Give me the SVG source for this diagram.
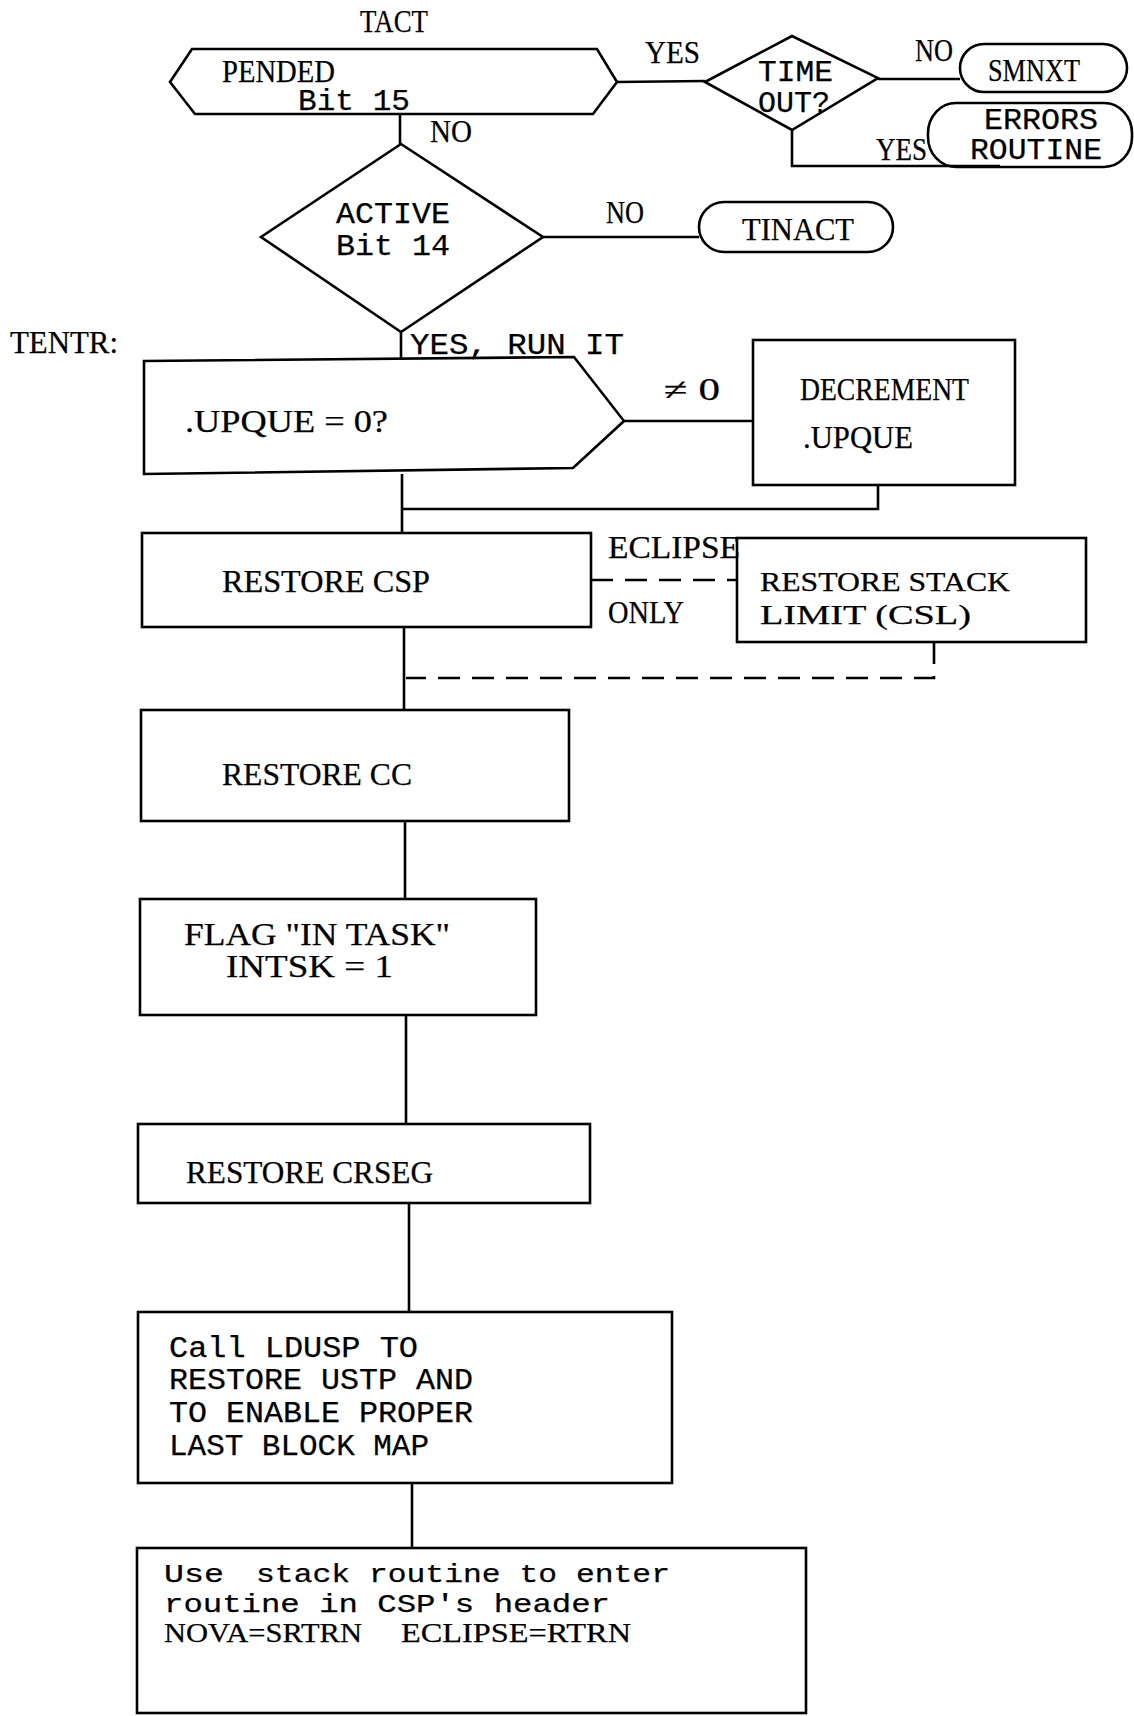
<svg xmlns="http://www.w3.org/2000/svg" width="1134" height="1716" viewBox="0 0 1134 1716">
<style>
.ln{fill:none;stroke:#000;stroke-width:2.6;stroke-linejoin:miter}
.dash{stroke-dasharray:22 12}
text{fill:#000;stroke:#000;stroke-width:0.25}
.s{font-family:"Liberation Serif",serif;font-size:31px}
.s2{font-family:"Liberation Serif",serif;font-size:28px}
.m{font-family:"Liberation Mono",monospace;font-size:29px}
.m2{font-family:"Liberation Mono",monospace;font-size:25px}
</style>
<rect width="1134" height="1716" fill="#fff"/>
<g id="connectors">
<path class="ln" d="M617,82 L705,81"/>
<path class="ln" d="M878,79 L960,79"/>
<path class="ln" d="M792,130 L792,166 L1000,166"/>
<path class="ln" d="M400,114 L400,144"/>
<path class="ln" d="M543,237 L699,237"/>
<path class="ln" d="M401,332 L401,358"/>
<path class="ln" d="M624,421 L753,421"/>
<path class="ln" d="M878,485 L878,509 L402,509"/>
<path class="ln" d="M402,474 L402,533"/>
<path class="ln dash" d="M591,580 L737,580"/>
<path class="ln dash" d="M934,642 L934,678 L406,678"/>
<path class="ln" d="M404,627 L404,710"/>
<path class="ln" d="M405,821 L405,899"/>
<path class="ln" d="M406,1015 L406,1124"/>
<path class="ln" d="M409,1203 L409,1312"/>
<path class="ln" d="M412,1483 L412,1548"/>
</g>
<g id="tact-label"><text class="s" x="360" y="32" textLength="68" lengthAdjust="spacingAndGlyphs">TACT</text></g>
<g id="pended">
<path class="ln" d="M192,49 L597,49 L617,82 L593,114 L195,114 L170,82 Z"/>
<text class="s" x="222" y="82" textLength="113" lengthAdjust="spacingAndGlyphs">PENDED</text>
<text class="m" x="298" y="110" textLength="112" lengthAdjust="spacingAndGlyphs">Bit 15</text>
</g>
<g id="labels">
<text class="s" x="645" y="63" textLength="55" lengthAdjust="spacingAndGlyphs">YES</text>
<text class="s" x="915" y="61" textLength="38" lengthAdjust="spacingAndGlyphs">NO</text>
<text class="s" x="876" y="160" textLength="51" lengthAdjust="spacingAndGlyphs">YES</text>
<text class="s" x="430" y="142" textLength="42" lengthAdjust="spacingAndGlyphs">NO</text>
<text class="s" x="606" y="223" textLength="38" lengthAdjust="spacingAndGlyphs">NO</text>
<text class="s" x="10" y="353" textLength="108" lengthAdjust="spacingAndGlyphs">TENTR:</text>
<text class="m" x="410" y="354" textLength="214" lengthAdjust="spacingAndGlyphs">YES, RUN IT</text>
<text class="s" x="664" y="400" textLength="56" lengthAdjust="spacingAndGlyphs">≠ 0</text>
<text class="s" x="608" y="558" textLength="132" lengthAdjust="spacingAndGlyphs">ECLIPSE</text>
<text class="s" x="608" y="623" textLength="76" lengthAdjust="spacingAndGlyphs">ONLY</text>
</g>
<g id="timeout">
<path class="ln" d="M705,82 L792,36 L878,78 L792,130 Z"/>
<text class="m" x="758" y="81" textLength="75" lengthAdjust="spacingAndGlyphs">TIME</text>
<text class="m" x="758" y="112" textLength="72" lengthAdjust="spacingAndGlyphs">OUT?</text>
</g>
<g id="smnxt">
<rect class="ln" x="960" y="44" width="167" height="48" rx="24" ry="24"/>
<text class="s" x="988" y="81" textLength="92" lengthAdjust="spacingAndGlyphs">SMNXT</text>
</g>
<g id="errors">
<rect class="ln" x="928" y="103" width="204" height="64" rx="28" ry="30"/>
<text class="m" x="984" y="129" textLength="114" lengthAdjust="spacingAndGlyphs">ERRORS</text>
<text class="m" x="970" y="159" textLength="132" lengthAdjust="spacingAndGlyphs">ROUTINE</text>
</g>
<g id="active">
<path class="ln" d="M401,144 L543,237 L401,332 L261,237 Z"/>
<text class="m" x="336" y="223" textLength="114" lengthAdjust="spacingAndGlyphs">ACTIVE</text>
<text class="m" x="336" y="255" textLength="114" lengthAdjust="spacingAndGlyphs">Bit 14</text>
</g>
<g id="tinact">
<rect class="ln" x="699" y="202" width="194" height="50" rx="25" ry="25"/>
<text class="s" x="742" y="240" textLength="112" lengthAdjust="spacingAndGlyphs">TINACT</text>
</g>
<g id="upque">
<path class="ln" d="M144,361 L574,357 L624,421 L573,468 L144,474 Z"/>
<text class="s" x="185" y="432" textLength="203" lengthAdjust="spacingAndGlyphs">.UPQUE = 0?</text>
</g>
<g id="decrement">
<rect class="ln" x="753" y="340" width="262" height="145"/>
<text class="s" x="800" y="400" textLength="169" lengthAdjust="spacingAndGlyphs">DECREMENT</text>
<text class="s" x="803" y="448" textLength="110" lengthAdjust="spacingAndGlyphs">.UPQUE</text>
</g>
<g id="restore-csp">
<rect class="ln" x="142" y="533" width="449" height="94"/>
<text class="s" x="222" y="592" textLength="208" lengthAdjust="spacingAndGlyphs">RESTORE CSP</text>
</g>
<g id="restore-stack">
<rect class="ln" x="737" y="538" width="349" height="104"/>
<text class="s2" x="760" y="591" textLength="250" lengthAdjust="spacingAndGlyphs">RESTORE STACK</text>
<text class="s2" x="760" y="624" textLength="211" lengthAdjust="spacingAndGlyphs">LIMIT (CSL)</text>
</g>
<g id="restore-cc">
<rect class="ln" x="141" y="710" width="428" height="111"/>
<text class="s" x="222" y="785" textLength="190" lengthAdjust="spacingAndGlyphs">RESTORE CC</text>
</g>
<g id="flag">
<rect class="ln" x="140" y="899" width="396" height="116"/>
<text class="s" x="184" y="945" textLength="266" lengthAdjust="spacingAndGlyphs">FLAG "IN TASK"</text>
<text class="s" x="226" y="977" textLength="167" lengthAdjust="spacingAndGlyphs">INTSK = 1</text>
</g>
<g id="restore-crseg">
<rect class="ln" x="138" y="1124" width="452" height="79"/>
<text class="s" x="186" y="1183" textLength="247" lengthAdjust="spacingAndGlyphs">RESTORE CRSEG</text>
</g>
<g id="call-ldusp">
<rect class="ln" x="138" y="1312" width="534" height="171"/>
<text class="m" x="169" y="1357" textLength="249" lengthAdjust="spacingAndGlyphs">Call LDUSP TO</text>
<text class="m" x="169" y="1389" textLength="304" lengthAdjust="spacingAndGlyphs">RESTORE USTP AND</text>
<text class="m" x="169" y="1422" textLength="304" lengthAdjust="spacingAndGlyphs">TO ENABLE PROPER</text>
<text class="m" x="169" y="1455" textLength="260" lengthAdjust="spacingAndGlyphs">LAST BLOCK MAP</text>
</g>
<g id="use-stack">
<rect class="ln" x="137" y="1548" width="669" height="165"/>
<text class="m2" x="164" y="1582" textLength="60" lengthAdjust="spacingAndGlyphs">Use</text>
<text class="m2" x="256" y="1582" textLength="414" lengthAdjust="spacingAndGlyphs">stack routine to enter</text>
<text class="m2" x="164" y="1612" textLength="446" lengthAdjust="spacingAndGlyphs">routine in CSP's header</text>
<text class="s2" x="164" y="1642" textLength="198" lengthAdjust="spacingAndGlyphs">NOVA=SRTRN</text>
<text class="s2" x="401" y="1642" textLength="230" lengthAdjust="spacingAndGlyphs">ECLIPSE=RTRN</text>
</g>
</svg>
